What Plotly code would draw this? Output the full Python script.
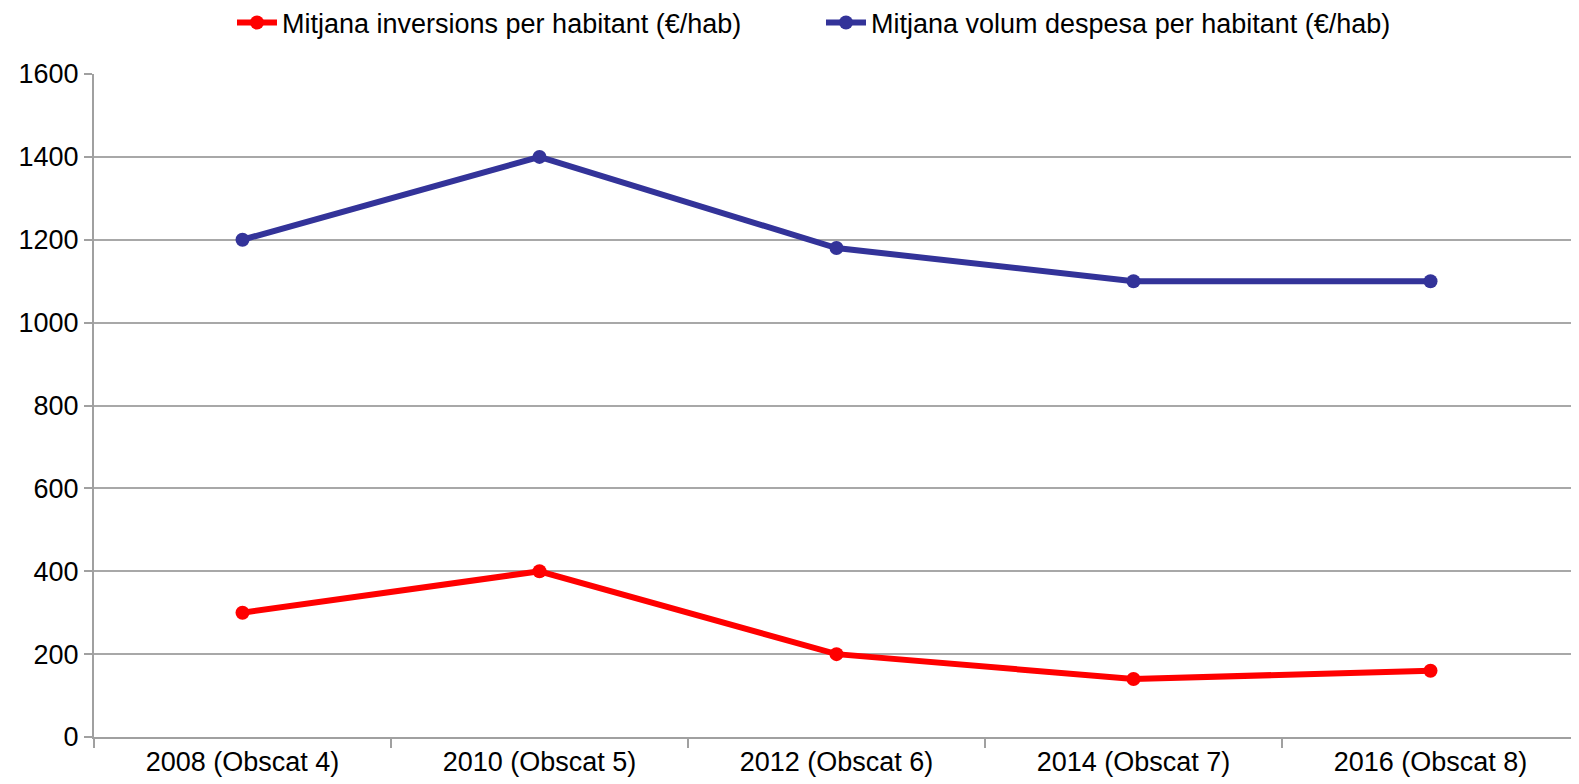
import plotly.graph_objects as go

categories = ["2008 (Obscat 4)", "2010 (Obscat 5)", "2012 (Obscat 6)", "2014 (Obscat 7)", "2016 (Obscat 8)"]
inversions = [300, 400, 200, 140, 160]
despesa = [1200, 1400, 1180, 1100, 1100]
y_ticks = [0, 200, 400, 600, 800, 1000, 1200, 1400, 1600]

fig = go.Figure()
fig.add_trace(go.Scatter(
    x=categories, y=inversions, mode="lines+markers",
    name="Mitjana inversions per habitant (€/hab)",
    line=dict(color="#FF0000", width=6),
    marker=dict(color="#FF0000", size=14),
))
fig.add_trace(go.Scatter(
    x=categories, y=despesa, mode="lines+markers",
    name="Mitjana volum despesa per habitant (€/hab)",
    line=dict(color="#333399", width=6),
    marker=dict(color="#333399", size=14),
))

fig.update_layout(
    width=1571, height=776,
    margin=dict(l=86, r=0, t=66, b=47, autoexpand=False),
    paper_bgcolor="white", plot_bgcolor="white",
    font=dict(family="Liberation Sans, Arial, sans-serif", size=27, color="black"),
    showlegend=True,
    legend=dict(
        orientation="h", xref="container", yref="container",
        x=0.5175, xanchor="center", y=0.9807, yanchor="middle",
        font=dict(size=27, color="black"),
        entrywidth=534, entrywidthmode="pixels",
        itemwidth=40,
    ),
    xaxis=dict(
        type="category", showgrid=False, automargin=False,
        showline=True, linecolor="#A0A0A0", linewidth=2,
        ticks="outside", tickson="boundaries", ticklen=9, tickcolor="#A0A0A0", tickwidth=1.5,
        tickfont=dict(size=27), range=[-0.5, 4.5],
    ),
    yaxis=dict(
        range=[0, 1600], tickvals=y_ticks, automargin=False,
        showgrid=True, gridcolor="#A8A8A8", gridwidth=1.5,
        showline=True, linecolor="#A0A0A0", linewidth=2,
        ticks="outside", ticklen=8, tickcolor="#A0A0A0", tickwidth=1.5,
        tickfont=dict(size=27), zeroline=False,
    ),
)

fig.write_html("out.html")
